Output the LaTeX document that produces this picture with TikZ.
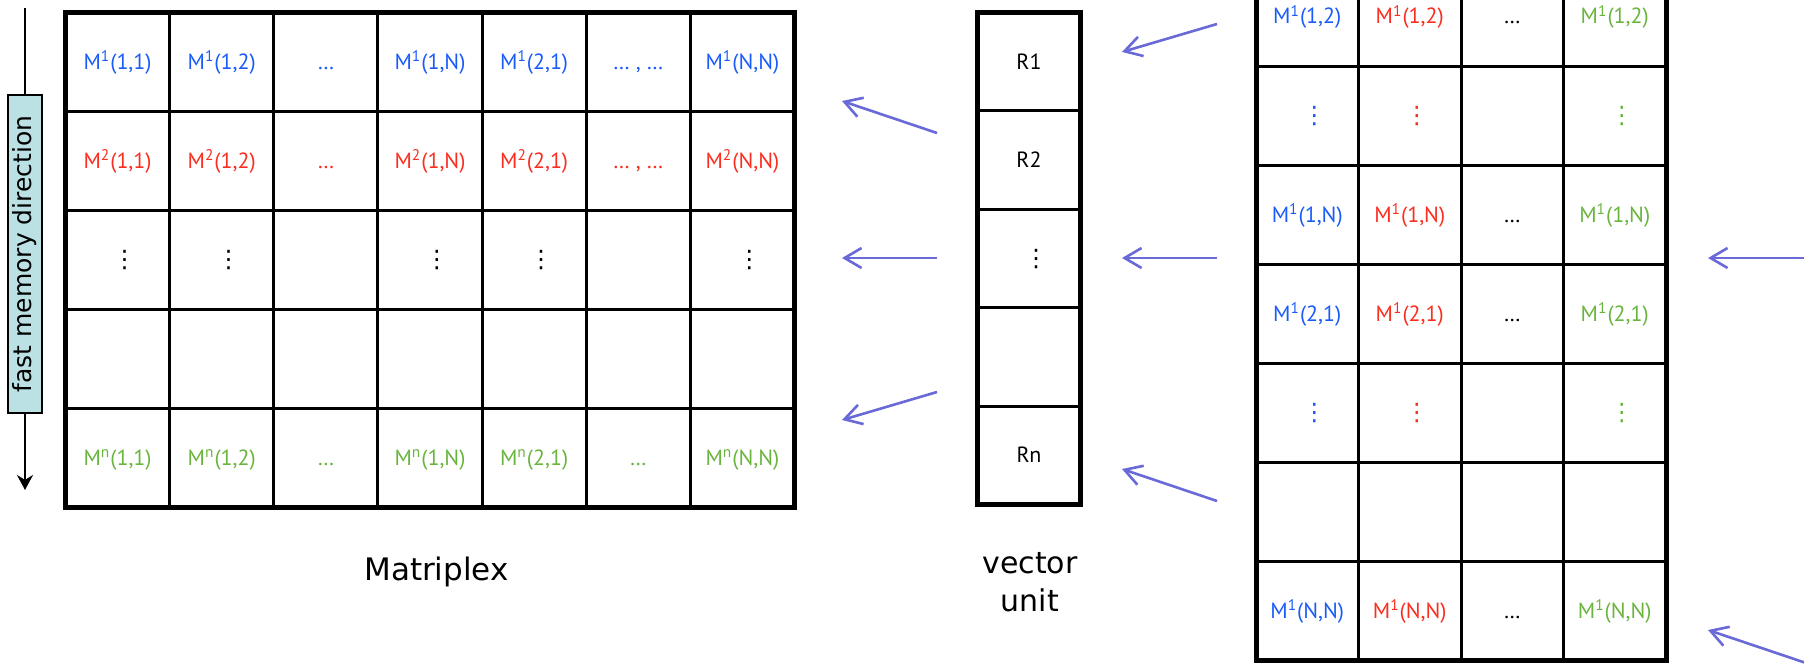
\documentclass[tikz,border=0pt]{standalone}
\usepackage{fontspec}
\setmainfont{PT Sans}
\newfontfamily\lblfont{DejaVu Sans}
\usetikzlibrary{arrows.meta}
\definecolor{cblue}{RGB}{25,90,250}
\definecolor{cred}{RGB}{250,45,30}
\definecolor{cgreen}{RGB}{105,180,60}
\definecolor{arrc}{RGB}{105,105,215}
\definecolor{fmfill}{RGB}{188,225,228}
\newcommand{\Mx}[1]{M\textsuperscript{#1}}
\newcommand{\vd}{\hspace*{7pt}{\lblfont\fontsize{12}{13}\selectfont ⋮}}
\begin{document}
\begin{tikzpicture}[x=0.5pt,y=-0.5pt,
  cellL/.style={draw, line width=1.5pt, minimum width=52.07pt, minimum height=49.45pt, inner sep=0pt, text height=9.5pt, text depth=2pt, font=\fontsize{11}{13}\selectfont},
  cellV/.style={cellL, minimum width=51.5pt, minimum height=49.2pt},
  cellR/.style={cellL, minimum width=51.25pt, minimum height=49.5pt},
  frame/.style={draw, line width=2.5pt, inner sep=0pt},
  arr/.style={draw=arrc, line width=1.3pt, -{Straight Barb[length=8.5pt,width=10pt]}},
]
\useasboundingbox (0,0) rectangle (1804,664);
\clip (0,0) rectangle (1804,664);

% ---------- left matrix (Matriplex) ----------
\foreach \t [count=\i from 0] in {{\Mx{1}(1,1)},{\Mx{1}(1,2)},{…},{\Mx{1}(1,N)},{\Mx{1}(2,1)},{… , …},{\Mx{1}(N,N)}}
  \node[cellL, text=cblue] (L-0-\i) at ({65.5+104.14*(\i+0.5)},{12.5+98.9*0.5}) {\t};
\foreach \t [count=\i from 0] in {{\Mx{2}(1,1)},{\Mx{2}(1,2)},{…},{\Mx{2}(1,N)},{\Mx{2}(2,1)},{… , …},{\Mx{2}(N,N)}}
  \node[cellL, text=cred] (L-1-\i) at ({65.5+104.14*(\i+0.5)},{12.5+98.9*1.5}) {\t};
\foreach \t [count=\i from 0] in {{\vd},{\vd},{},{\vd},{\vd},{},{\vd}}
  \node[cellL] (L-2-\i) at ({65.5+104.14*(\i+0.5)},{12.5+98.9*2.5}) {\t};
\foreach \i in {0,...,6}
  \node[cellL] (L-3-\i) at ({65.5+104.14*(\i+0.5)},{12.5+98.9*3.5}) {};
\foreach \t [count=\i from 0] in {{\Mx{n}(1,1)},{\Mx{n}(1,2)},{…},{\Mx{n}(1,N)},{\Mx{n}(2,1)},{…},{\Mx{n}(N,N)}}
  \node[cellL, text=cgreen] (L-4-\i) at ({65.5+104.14*(\i+0.5)},{12.5+98.9*4.5}) {\t};
\node[frame, minimum width=364.5pt, minimum height=247.25pt] (Lframe) at (430,259.75) {};

% ---------- vector unit ----------
\foreach \t [count=\j from 0] in {R1,R2,{\vd},{},Rn}
  \node[cellV] (V-\j) at (1029,{12.5+98.4*(\j+0.5)}) {\t};
\node[frame, minimum width=51.5pt, minimum height=246pt] (Vframe) at (1029,258.5) {};

% ---------- right matrix ----------
\foreach \r/\a in {0/{(1,2)},2/{(1,N)},3/{(2,1)},6/{(N,N)}}{
  \node[cellR, text=cblue]  (R-\r-0) at ({1256+102.5*0.5},{-33+99*(\r+0.5)}) {\Mx{1}\a};
  \node[cellR, text=cred]   (R-\r-1) at ({1256+102.5*1.5},{-33+99*(\r+0.5)}) {\Mx{1}\a};
  \node[cellR]              (R-\r-2) at ({1256+102.5*2.5},{-33+99*(\r+0.5)}) {…};
  \node[cellR, text=cgreen] (R-\r-3) at ({1256+102.5*3.5},{-33+99*(\r+0.5)}) {\Mx{1}\a};
}
\foreach \r in {1,4}{
  \node[cellR, text=cblue]  (R-\r-0) at ({1256+102.5*0.5},{-33+99*(\r+0.5)}) {\vd};
  \node[cellR, text=cred]   (R-\r-1) at ({1256+102.5*1.5},{-33+99*(\r+0.5)}) {\vd};
  \node[cellR]              (R-\r-2) at ({1256+102.5*2.5},{-33+99*(\r+0.5)}) {};
  \node[cellR, text=cgreen] (R-\r-3) at ({1256+102.5*3.5},{-33+99*(\r+0.5)}) {\vd};
}
\foreach \c in {0,...,3}
  \node[cellR] (R-5-\c) at ({1256+102.5*(\c+0.5)},{-33+99*5.5}) {};
\node[frame, minimum width=205pt, minimum height=346.5pt] (Rframe) at (1461,313.5) {};

% ---------- fast memory direction ----------
\node[draw, line width=1pt, fill=fmfill, rotate=90, minimum width=159pt, minimum height=17pt, inner sep=0pt,
      font=\lblfont\fontsize{12.5}{14}\selectfont] (fmd) at (25,254) {fast memory direction};
\coordinate (fmtop) at (25,8);
\coordinate (fmbot) at (25,490);
\draw[line width=1pt] (fmtop) -- (fmd.east);
\draw[line width=1pt, -{Stealth[length=7.5pt,width=8pt]}] (fmd.west) -- (fmbot);

% ---------- labels ----------
\node[font=\lblfont\fontsize{15.5}{18}\selectfont, anchor=base, inner sep=0pt] (mplx) at (436.5,580) {Matriplex};
\node[font=\lblfont\fontsize{15}{19}\selectfont, align=center, inner sep=0pt] (vul) at (1030,582) {vector\\unit};

% ---------- arrows ----------
\coordinate (a1s) at (937,133);  \coordinate (a1e) at (842,101);
\coordinate (a2s) at (937,258);  \coordinate (a2e) at (842,258);
\coordinate (a3s) at (937,392);  \coordinate (a3e) at (842,420);
\coordinate (b1s) at (1217,24);  \coordinate (b1e) at (1122,52);
\coordinate (b2s) at (1217,258); \coordinate (b2e) at (1122,258);
\coordinate (b3s) at (1217,501); \coordinate (b3e) at (1122,469);
\coordinate (c1s) at (1806,258); \coordinate (c1e) at (1708,258);
\coordinate (c2s) at (1806,663); \coordinate (c2e) at (1708,630);
\foreach \p in {a1,a2,a3,b1,b2,b3,c1,c2}
  \draw[arr] (\p s) -- (\p e);
\end{tikzpicture}
\end{document}
